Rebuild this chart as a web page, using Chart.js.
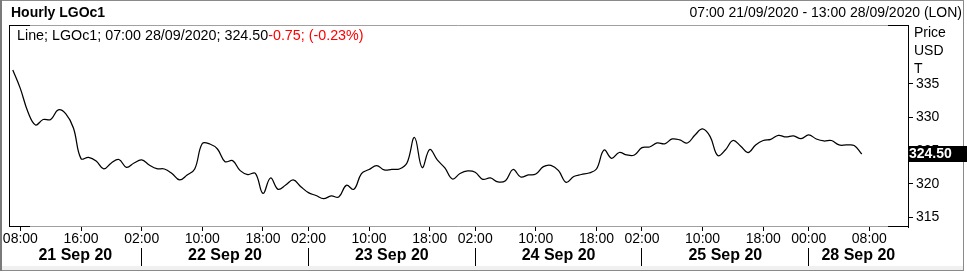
<!DOCTYPE html>
<html>
<head>
<meta charset="utf-8">
<script src="https://cdn.jsdelivr.net/npm/chart.js@4.4.0/dist/chart.umd.min.js"></script>
<style>
  body { margin: 0; background: #fff; }
  canvas { display: block; }
</style>
</head>
<body>
<canvas id="myChart" width="967" height="273"></canvas>
<script>
// hourly closes, one per trading hour slot (07:00 21/09 .. 07:00 28/09)
const prices = [
  337.1, 334.3, 330.8, 328.85, 329.67, 329.67, 331.1, 330.5, 328.4, 323.8,
  324.0, 323.45, 322.25, 323.15, 323.67, 322.5, 323.15, 323.6, 322.85, 322.3,
  322.25, 321.57, 320.6, 321.35, 322.25, 326.07, 326.0, 325.25, 323.35, 323.5,
  322.0, 321.42, 321.6, 318.6, 320.9, 319.2, 319.85, 320.6, 319.6, 318.7,
  318.27, 317.8, 318.2, 318.05, 319.8, 319.2, 321.57, 322.17, 322.77, 322.1,
  322.2, 322.25, 323.15, 326.97, 322.47, 325.17, 323.6, 322.4, 320.75, 321.57,
  321.95, 321.75, 320.7, 320.9, 320.3, 320.5, 322.17, 321.05, 321.35, 321.5,
  322.6, 322.8, 322.0, 320.25, 321.12, 321.42, 321.65, 322.25, 325.1, 323.85,
  324.72, 324.35, 324.35, 325.45, 325.55, 326.15, 326.03, 326.75, 326.6, 326.15,
  327.35, 328.25, 327.1, 324.27, 325.1, 326.52, 325.7, 324.72, 325.85, 326.52,
  326.7, 327.3, 327.05, 327.2, 326.8, 327.37, 326.75, 326.45, 326.52, 325.85,
  325.85, 325.77, 324.5
];
const hourTickSlots = [1, 9, 17, 25, 33, 39, 47, 55, 61, 69, 77, 83, 91, 99, 105, 113];
const hourTickLabels = ['08:00', '16:00', '02:00', '10:00', '18:00', '02:00', '10:00', '18:00',
                        '02:00', '10:00', '18:00', '02:00', '10:00', '18:00', '00:00', '08:00'];
const dayLabels = ['21 Sep 20', '22 Sep 20', '23 Sep 20', '24 Sep 20', '25 Sep 20', '28 Sep 20'];
const dayStarts = [-0.5, 17, 39, 61, 83, 105];
const slotMax = 118.1;
const priceTicks = [315, 320, 325, 330, 335];
const lastChange = -0.75;
const lastChangePct = -0.23;

const font = "'Liberation Sans', Arial, sans-serif";
const daySplits = dayStarts.slice(1);
const dayCenters = dayStarts.map((s, i) => (s + (i + 1 < dayStarts.length ? dayStarts[i + 1] : slotMax)) / 2);
const last = prices[prices.length - 1];

const framePlugin = {
  id: 'frame',
  beforeDraw(chart) {
    const c = chart.ctx;
    c.save();
    c.fillStyle = '#fff';
    c.fillRect(0, 0, chart.width, chart.height);
    c.restore();
  },
  afterDraw(chart) {
    const c = chart.ctx;
    const y = chart.scales.y;
    c.save();
    // outer frame
    c.fillStyle = '#f0f0f0';
    c.fillRect(2, 266, 961, 4);
    c.strokeStyle = '#8a8a8a';
    c.lineWidth = 1;
    c.beginPath();
    c.moveTo(0, 0.5); c.lineTo(964, 0.5);
    c.moveTo(963.5, 0); c.lineTo(963.5, 271);
    c.moveTo(0, 270.5); c.lineTo(964, 270.5);
    c.stroke();
    c.fillStyle = '#7a7a7a';
    c.fillRect(0, 0, 2, 271);

    // plot box
    const L = 9.5, R = 908, T = 25.5, B = 226.5;
    c.strokeStyle = '#a0a0a0';
    c.beginPath();
    c.moveTo(L, T); c.lineTo(R, T);
    c.moveTo(L, B); c.lineTo(R, B);
    c.stroke();
    c.strokeStyle = '#000';
    c.beginPath();
    c.moveTo(L, T - 0.5); c.lineTo(L, B + 0.5);
    c.moveTo(L, T); c.lineTo(30, T);
    c.moveTo(L, B); c.lineTo(30, B);
    c.moveTo(888, T); c.lineTo(R, T);
    c.moveTo(888, B); c.lineTo(R, B);
    c.stroke();

    // header
    c.textBaseline = 'middle';
    c.fillStyle = '#000';
    c.font = 'bold 14px ' + font;
    c.textAlign = 'left';
    c.fillText('Hourly LGOc1', 11, 13);
    c.font = '14px ' + font;
    c.textAlign = 'right';
    c.fillText('07:00 21/09/2020 - 13:00 28/09/2020 (LON)', 962, 13);

    // legend line
    c.textAlign = 'left';
    c.font = '14.3px ' + font;
    const txt1 = 'Line; LGOc1; 07:00 28/09/2020; ' + last.toFixed(2);
    const txt2 = lastChange.toFixed(2) + '; (' + lastChangePct.toFixed(2) + '%)';
    c.fillText(txt1, 17, 36);
    c.fillStyle = '#ff0000';
    c.fillText(txt2, 17 + c.measureText(txt1).width, 36);

    // axis unit labels
    c.font = '14px ' + font;
    c.fillStyle = '#000';
    c.fillText('Price', 914, 33);
    c.fillText('USD', 914, 51);
    c.fillText('T', 914, 69);

    // last price box
    const py = Math.round(y.getPixelForValue(last));
    c.fillStyle = '#000';
    c.fillRect(908, py - 8, 62, 16);
    c.fillStyle = '#fff';
    c.font = 'bold 14px ' + font;
    c.fillText(last.toFixed(2), 909, py);
    c.restore();
  }
};

let chart = document.getElementById('myChart').getContext('2d');

let myChart = new Chart(chart, {
  type: 'line',
  data: {
    datasets: [{
      label: 'LGOc1',
      data: prices.map((v, i) => ({ x: i, y: v })),
      borderColor: '#000',
      borderWidth: 1.25,
      pointRadius: 0,
      tension: 0.4,
      fill: false
    }]
  },
  options: {
    responsive: false,
    animation: false,
    devicePixelRatio: 1,
    layout: { padding: { left: 9, top: 25, right: 0, bottom: 0 } },
    plugins: { legend: { display: false }, tooltip: { enabled: false } },
    scales: {
      x: {
        type: 'linear', position: 'bottom', weight: 0,
        min: -0.5, max: slotMax,
        afterBuildTicks: s => { s.ticks = hourTickSlots.map(v => ({ value: v })); },
        afterFit: s => { s.height = 21; },
        grid: { drawOnChartArea: false, tickLength: 4, color: '#000' },
        border: { display: false },
        ticks: {
          autoSkip: false, maxRotation: 0, padding: 0, color: '#000',
          font: { family: font, size: 14 },
          callback: (v, i) => hourTickLabels[i]
        }
      },
      x2: {
        type: 'linear', position: 'bottom', weight: 1,
        min: -0.5, max: slotMax,
        afterBuildTicks: s => {
          s.ticks = daySplits.concat(dayCenters).sort((p, q) => p - q).map(v => ({ value: v }));
        },
        afterFit: s => { s.height = 25; },
        grid: {
          drawOnChartArea: false, tickLength: 18,
          color: ctx => (ctx.tick && daySplits.includes(ctx.tick.value)) ? '#000' : 'rgba(0,0,0,0)'
        },
        border: { display: false },
        ticks: {
          autoSkip: false, maxRotation: 0, padding: -20, color: '#000',
          font: { family: font, size: 16, weight: 'bold' },
          callback: v => { const k = dayCenters.indexOf(v); return k >= 0 ? dayLabels[k] : ''; }
        }
      },
      y: {
        position: 'right',
        min: 313.55, max: 343.84,
        afterBuildTicks: s => { s.ticks = priceTicks.map(v => ({ value: v })); },
        afterFit: s => { s.width = 59; },
        grid: { drawOnChartArea: false, tickLength: 5, color: '#000' },
        border: { display: true, color: '#000' },
        ticks: { padding: 3, color: '#000', font: { family: font, size: 14 } }
      }
    }
  },
  plugins: [framePlugin]
});
</script>
</body>
</html>
